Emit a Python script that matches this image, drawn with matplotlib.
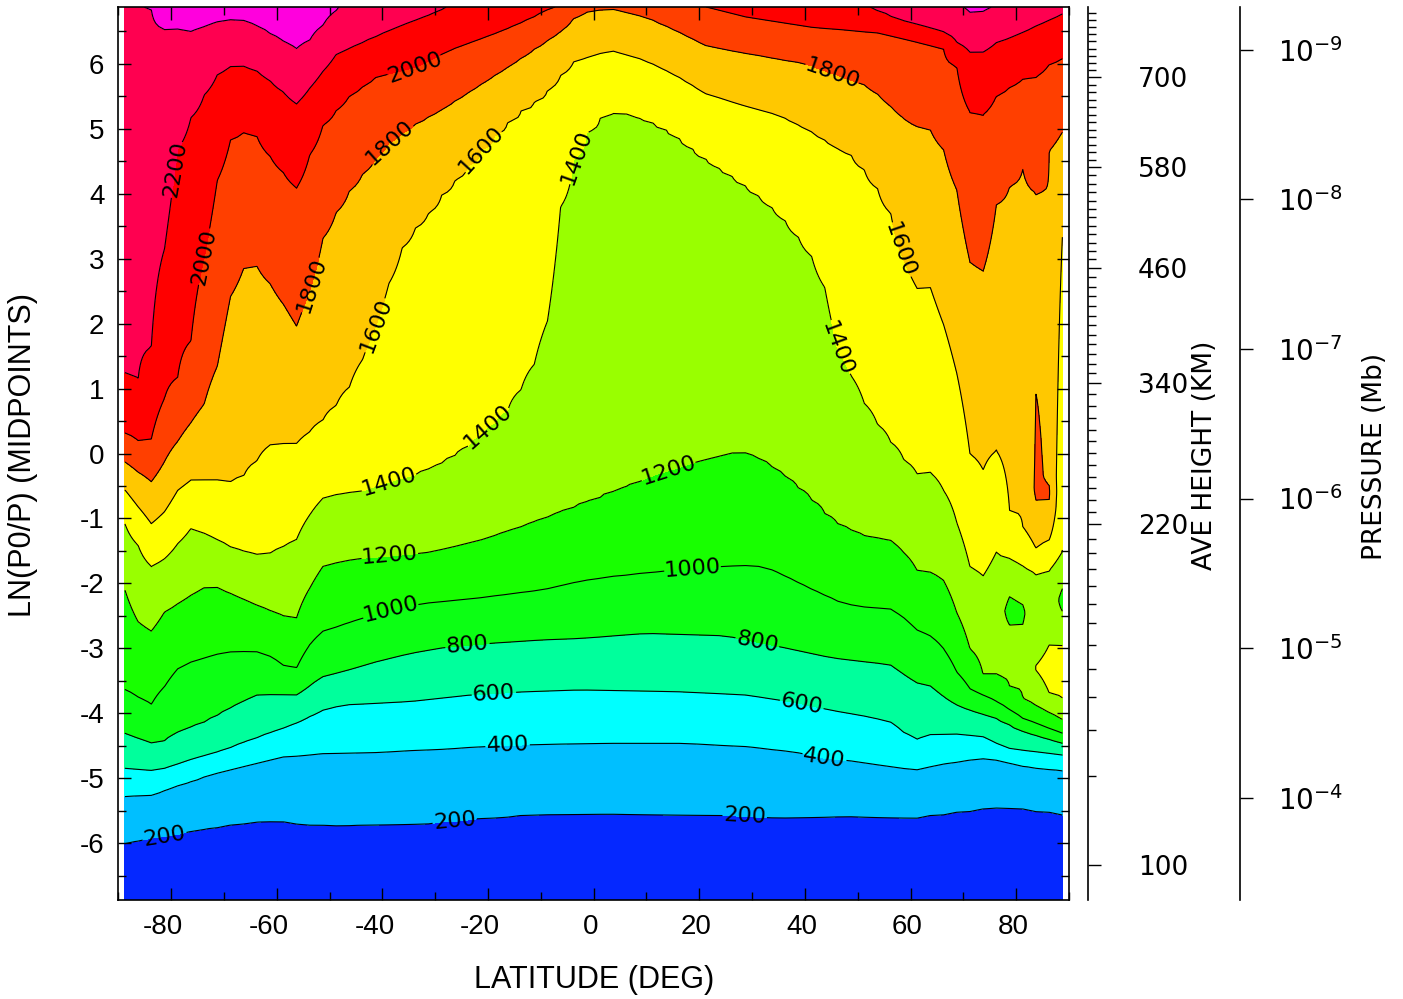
import numpy as np
import matplotlib
matplotlib.use('Agg')
import matplotlib.pyplot as plt
from matplotlib.transforms import ScaledTranslation

plt.rcParams['font.family'] = ['Liberation Sans', 'DejaVu Sans']
plt.rcParams['axes.unicode_minus'] = False

# contour levels and the fill colour of each band (below 200 ... above 2400)
levels = [200, 400, 600, 800, 1000, 1200, 1400, 1600, 1800, 2000, 2200, 2400]
fill_colors = ['#0528FF', '#00BFFF', '#00FFFF', '#00FF9C', '#0CFF14', '#18FF00',
               '#99FF00', '#FFFF00', '#FFC800', '#FF3F00', '#FF0000', '#FF0050', '#FF00DD']

# where each contour runs: latitude (deg) -> ln(p0/p)
# (values above 6.875 mean the contour lies above the top of the plot there)
lat_200 = [-88.75, -76.8, -70.8, -66.5, -60.8, -58.2, -53.8, -47.5, -31.1, -22.2, -9.7, 3.0, 10.0,
           28.6, 35.2, 47.9, 61.1, 69.9, 76.3, 79.4, 88.75]
lnp_200 = [-5.99, -5.82, -5.74, -5.69, -5.66, -5.67, -5.72, -5.73, -5.69, -5.62, -5.55, -5.54, -5.55,
           -5.58, -5.60, -5.58, -5.60, -5.51, -5.44, -5.45, -5.55]

lat_400 = [-88.75, -83.8, -78.4, -72.7, -66.4, -58.8, -51.3, -41.2, -28.5, -16.2, 3.0, 16.3, 28.9,
           38.4, 43.75, 48.5, 56.1, 61.1, 66.8, 73.7, 76.3, 81.9, 88.75]
lnp_400 = [-5.28, -5.26, -5.10, -4.95, -4.82, -4.67, -4.62, -4.60, -4.55, -4.49, -4.46, -4.46, -4.51,
           -4.60, -4.69, -4.73, -4.82, -4.87, -4.77, -4.69, -4.72, -4.82, -4.88]

lat_600 = [-88.75, -83.8, -81.25, -76.5, -70.8, -63.9, -58.8, -56.3, -51.3, -47.5, -34.8, -23.5, -13.3,
           -2.65, 16.3, 28.9, 39.3, 44.7, 51.6, 56.1, 58.9, 61.1, 63.6, 68.7, 73.7, 78.1, 88.75]
lnp_600 = [-4.85, -4.88, -4.85, -4.72, -4.59, -4.38, -4.23, -4.15, -3.95, -3.87, -3.82, -3.72, -3.67,
           -3.64, -3.67, -3.72, -3.85, -3.95, -4.05, -4.13, -4.31, -4.41, -4.33, -4.32, -4.36, -4.54, -4.64]

lat_800 = [-88.75, -83.8, -81.6, -78.4, -73.4, -67.7, -63.9, -60.1, -56.3, -51.3, -47.5, -41.2, -34.8,
           -28.5, -19.1, -9.6, -2.65, 10.0, 25.1, 35.85, 45.3, 51.6, 56.1, 58.9, 61.4, 63.6, 66.2, 68.7,
           71.9, 76.3, 81.3, 88.75]
lnp_800 = [-4.31, -4.46, -4.44, -4.28, -4.13, -3.87, -3.72, -3.71, -3.72, -3.44, -3.36, -3.21, -3.08,
           -2.99, -2.92, -2.87, -2.85, -2.77, -2.81, -2.99, -3.15, -3.21, -3.25, -3.41, -3.54, -3.57, -3.74,
           -3.87, -3.97, -4.08, -4.28, -4.46]

lat_1000 = [-88.75, -83.8, -78.7, -76.2, -70.8, -68.3, -63.9, -61.0, -58.5, -56.3, -53.8, -51.3, -47.5,
            -44.6, -38.6, -32.3, -22.2, -9.6, -2.65, 3.0, 12.5, 25.1, 30.2, 34.0, 41.5, 47.2, 51.6, 56.1,
            58.9, 61.4, 63.6, 66.2, 68.7, 71.2, 76.3, 81.3, 88.75]
lnp_1000 = [-3.64, -3.87, -3.31, -3.21, -3.08, -3.05, -3.05, -3.13, -3.28, -3.31, -2.95, -2.74, -2.64,
            -2.56, -2.41, -2.31, -2.23, -2.10, -1.97, -1.90, -1.82, -1.74, -1.72, -1.80, -2.10, -2.31, -2.37,
            -2.39, -2.54, -2.73, -2.80, -3.00, -3.36, -3.62, -3.82, -4.08, -4.31]

lat_1200 = [-88.75, -87.9, -86.0, -83.8, -81.25, -78.7, -76.2, -73.4, -71.5, -63.9, -58.5, -56.3, -53.8,
            -51.3, -48.1, -44.6, -32.3, -26.6, -20.3, -12.7, -3.3, 3.0, 13.8, 20.1, 26.4, 28.9, 31.4,
            35.85, 40.3, 45.3, 51.6, 56.1, 58.9, 61.4, 63.6, 66.5, 68.7, 70.9, 73.7, 76.3, 81.3, 88.75]
lnp_1200 = [-2.10, -2.39, -2.62, -2.74, -2.44, -2.31, -2.18, -2.05, -2.05, -2.33, -2.51, -2.54, -2.08,
            -1.74, -1.67, -1.62, -1.54, -1.44, -1.31, -1.10, -0.82, -0.62, -0.28, -0.13, 0.0, 0.0, -0.08,
            -0.33, -0.64, -1.05, -1.28, -1.33, -1.54, -1.82, -1.82, -1.97, -2.44, -2.95, -3.41, -3.41,
            -3.77, -4.10]

lat_1400 = [-88.75, -83.8, -81.25, -76.2, -72.7, -68.3, -63.9, -61.4, -56.3, -53.8, -51.3, -48.1, -44.3,
            -33.0, -28.5, -24.1, -19.7, -15.3, -9.66, -8.96, -7.06, -5.87, -3.28, -0.19, 3.3, 6.4, 11.2,
            15.7, 21.3, 27.0, 32.7, 36.5, 40.9, 44.1, 46.0, 49.05, 52.3, 55.4, 57.9, 61.4, 63.6, 66.1,
            68.7, 71.2, 73.7, 76.3, 78.8, 83.8, 86.4, 88.75]
lnp_1400 = [-1.08, -1.74, -1.62, -1.15, -1.26, -1.46, -1.56, -1.54, -1.33, -0.95, -0.69, -0.62, -0.59,
            -0.31, -0.15, 0.08, 0.39, 0.74, 1.62, 1.88, 3.31, 4.03, 4.65, 5.11, 5.26, 5.23, 5.11,
            4.90, 4.54, 4.23, 3.88, 3.57, 3.11, 2.49, 1.62, 1.15, 0.59, 0.28, -0.03, -0.33, -0.28, -0.54,
            -1.05, -1.74, -1.89, -1.51, -1.62, -1.85, -1.80, -1.51]

lat_1600 = [-88.75, -83.75, -80.9, -78.7, -76.5, -71.5, -68.6, -66.4, -63.9, -61.4, -58.8, -56.3, -51.3,
            -47.5, -44.9, -41.2, -39.3, -36.7, -34.3, -31.1, -27.9, -25.4, -21.6, -17.2, -14.0, -9.66,
            -3.98, -0.19, 3.3, 9.97, 15.7, 21.3, 27.6, 35.2, 41.5, 45.3, 49.1, 52.9, 55.4, 56.7, 57.95,
            61.1, 63.6, 66.2, 68.7, 71.2, 73.7, 76.3, 78.5, 82.6, 83.75, 86.25, 88.75]
lnp_1600 = [-0.56, -1.08, -0.87, -0.56, -0.41, -0.41, -0.44, -0.36, -0.13, 0.13, 0.15, 0.15, 0.51,
            0.85, 1.21, 1.97, 2.49, 3.11, 3.42, 3.72, 4.08, 4.28, 4.65, 5.05, 5.26, 5.51,
            6.03, 6.13, 6.21, 6.05, 5.82, 5.54, 5.38, 5.21, 4.95, 4.74, 4.59, 4.20, 3.85, 3.62, 3.13,
            2.54, 2.59, 2.00, 1.26, 0.0, -0.26, 0.05, -0.85, -1.26, -1.46, -1.33, 3.34]

lat_1800 = [-88.75, -83.8, -78.4, -73.4, -70.8, -68.9, -66.4, -63.9, -60.1, -56.3, -55.1, -53.2, -51.9,
            -48.7, -45.6, -41.8, -38.6, -33.6, -28.5, -15.9, -6.4, -2.65, 3.66, 9.97, 15.7, 21.3, 27.6,
            40.3, 45.3, 51.0, 54.2, 57.95, 60.5, 63.6, 66.2, 68.7, 69.95, 71.2, 73.7, 76.3, 81.3, 83.8,
            85.7, 88.75]
lnp_1800 = [-0.13, -0.44, 0.23, 0.80, 1.46, 2.39, 2.85, 2.90, 2.49, 1.95, 2.21, 2.64, 3.21,
            3.72, 4.13, 4.49, 4.80, 5.08, 5.31, 5.97, 6.49, 6.80, 6.85, 6.72, 6.51, 6.28, 6.18,
            6.00, 5.85, 5.69, 5.51, 5.21, 5.05, 5.00, 4.69, 4.08, 3.56, 2.95, 2.79, 3.85, 4.38, 4.00,
            4.59, 4.95]

lat_2000 = [-88.75, -86.0, -83.8, -81.25, -78.1, -76.5, -74.6, -73.7, -72.7, -71.5, -69.3, -66.4, -63.9,
            -61.4, -58.8, -56.3, -53.8, -51.3, -46.2, -41.2, -33.6, -27.3, -22.2, -17.2, -12.1, -8.3,
            -4.0, 5.0, 15.0, 20.1, 28.9, 41.5, 52.9, 60.5, 66.2, 68.7, 71.2, 73.7, 76.3, 81.3, 83.8,
            85.7, 88.75]
lnp_2000 = [0.31, 0.18, 0.21, 0.85, 1.26, 1.62, 2.49, 3.03, 3.56, 4.13, 4.80, 4.95, 4.90,
            4.59, 4.33, 4.08, 4.59, 5.05, 5.51, 5.80, 5.95, 6.21, 6.36, 6.51, 6.69, 6.85,
            6.95, 7.10, 7.05, 6.90, 6.72, 6.56, 6.49, 6.36, 6.23, 5.97, 5.26, 5.21, 5.51, 5.77, 5.80,
            5.97, 6.08]

lat_2200 = [-88.75, -86.0, -83.8, -82.2, -81.25, -80.6, -79.7, -78.1, -75.3, -71.5, -68.6, -66.4, -63.9,
            -60.1, -56.3, -53.8, -48.7, -43.7, -38.7, -34.8, -29.8, -26.0, -10.0, 20.0, 45.0, 51.3,
            57.95, 61.7, 66.2, 71.2, 73.7, 76.3, 80.1, 83.9, 87.6, 88.75]
lnp_2200 = [1.23, 1.13, 1.62, 2.39, 3.15, 3.87, 4.38, 4.90, 5.31, 5.82, 5.97, 5.97, 5.90,
            5.67, 5.38, 5.62, 6.15, 6.33, 6.51, 6.64, 6.79, 6.95, 7.40, 7.40, 7.10, 6.90,
            6.67, 6.59, 6.49, 6.18, 6.18, 6.33, 6.44, 6.59, 6.72, 6.77]

lat_2400 = [-88.75, -86.25, -84.1, -81.25, -78.7, -76.2, -71.5, -68.6, -66.4, -63.9, -60.1, -56.3,
            -53.8, -48.1, -44.0, -20.0, 40.0, 60.0, 69.95, 71.5, 73.7, 75.9, 80.0, 88.75]
lnp_2400 = [7.30, 7.05, 6.88, 6.53, 6.54, 6.50, 6.64, 6.68, 6.67, 6.59, 6.41, 6.23,
            6.36, 6.88, 7.20, 8.00, 8.00, 7.30, 6.88, 6.77, 6.80, 6.88, 7.10, 7.30]

# small closed features near the north pole: extra (ln(p0/p), value) points per column
extra_lat = [78.75, 81.25, 83.75, 86.25, 88.75]
extra_lnp = [[-2.9, -2.64, -2.42, -2.205, -1.95],
             [-2.9, -2.63, -2.45, -2.33, -2.05],
             [-3.6, -3.3, -3.0, -0.72, -0.55, 0.0, 0.5, 0.92, 1.6],
             [-3.69, -3.3, -2.95, -2.4, -0.85, -0.6, -0.35],
             [-3.77, -3.35, -2.95, -2.43, -2.25, -2.08]]
extra_val = [[1260, 1200, 1140, 1200, 1280],
             [1250, 1200, 1165, 1200, 1280],
             [1330, 1410, 1330, 1800, 1830, 1815, 1806, 1800, 1770],
             [1400, 1470, 1400, 1290, 1780, 1815, 1780],
             [1400, 1480, 1400, 1200, 1150, 1200]]

# average height (km) against ln(p0/p)
height_km = [100, 110, 120, 130, 140, 150, 160, 170, 180, 190, 200, 210, 220, 340, 460, 580, 700, 800]
height_lnp = [-6.33, -4.96, -4.25, -3.75, -3.32, -2.95, -2.61, -2.31, -2.035, -1.78, -1.53, -1.31,
              -1.08, 1.09, 2.86, 4.41, 5.79, 6.90]

# pressure axis: p = p0 * exp(-ln(p0/p))
p0 = 5e-7
p_exp = [-9, -8, -7, -6, -5, -4]

# ---- build the gridded field from the contour positions ----
lat_grid = np.arange(-88.75, 88.76, 2.5)
lnp_grid = np.linspace(-6.875, 6.875, 276)

lines = [(lat_200, lnp_200), (lat_400, lnp_400), (lat_600, lnp_600), (lat_800, lnp_800),
         (lat_1000, lnp_1000), (lat_1200, lnp_1200), (lat_1400, lnp_1400), (lat_1600, lnp_1600),
         (lat_1800, lnp_1800), (lat_2000, lnp_2000), (lat_2200, lnp_2200), (lat_2400, lnp_2400)]
cross = [np.interp(lat_grid, la, ln) for la, ln in lines]

field = np.zeros((lnp_grid.size, lat_grid.size))
for j, la in enumerate(lat_grid):
    zs = [-9.0] + [c[j] for c in cross] + [10.0]
    vs = [0.0] + levels + [3000.0]
    for k, el in enumerate(extra_lat):
        if abs(el - la) < 0.01:
            zs = zs + extra_lnp[k]
            vs = vs + extra_val[k]
    order = np.argsort(zs)
    field[:, j] = np.interp(lnp_grid, np.array(zs)[order], np.array(vs, dtype=float)[order])

# ---- figure ----
fig = plt.figure(figsize=(14.03, 9.99), dpi=100)
L, B, W, H = 118.3 / 1403, 99 / 999, 950.7 / 1403, 893 / 999
ax = fig.add_axes([L, B, W, H])

ax.contourf(lat_grid, lnp_grid, field, levels=[0] + levels + [3000], colors=fill_colors)
cs = ax.contour(lat_grid, lnp_grid, field, levels=levels, colors='k', linewidths=0.8)

label_pos = [(-81.25, -5.89), (-26.3, -5.66), (28.6, -5.585),
             (-16.3, -4.49), (43.75, -4.66),
             (-18.9, -3.68), (39.4, -3.86),
             (-23.9, -2.95), (31.1, -2.86),
             (-38.6, -2.35), (18.75, -1.815),
             (-38.6, -1.57), (14.0, -0.23),
             (-38.6, -0.49), (-19.7, 0.385), (-3.0, 4.54), (45.8, 1.615),
             (-41.3, 1.97), (-21.6, 4.69), (57.6, 3.12),
             (-53.8, 2.6), (-38.6, 4.8), (45.3, 5.88),
             (-73.7, 3.03), (-33.9, 5.97),
             (-79.7, 4.38)]
clabels = ax.clabel(cs, fmt='%d', fontsize=16, inline=True, inline_spacing=4, manual=label_pos)
for t in clabels:
    t.set_fontfamily('DejaVu Sans')

ax.set_xlim(-90, 90)
ax.set_ylim(-6.875, 6.875)
ax.set_xticks(np.arange(-80, 81, 20))
ax.set_xticks(np.arange(-90, 91, 10), minor=True)
ax.set_yticks(np.arange(-6, 7, 1))
ax.set_yticks(np.arange(-6.5, 7, 0.5), minor=True)
ax.tick_params(which='both', direction='in', top=True, right=True, width=1)
ax.tick_params(which='major', length=9, labelsize=20, pad=10)
ax.tick_params(which='minor', length=6)
for s in ax.spines.values():
    s.set_linewidth(1.2)

# the numbers sit centred on their digits, the minus sign hangs to the left
for lab in ax.get_xticklabels():
    shift = -8 if lab.get_text().startswith('-') else -3
    lab.set_transform(lab.get_transform() + ScaledTranslation(shift / 100, 0, fig.dpi_scale_trans))

fig.text(594 / 1403, 1 - 980 / 999, 'LATITUDE (DEG)', ha='center', va='center', fontsize=22)
fig.text(23 / 1403, 1 - 455 / 999, 'LN(P0/P) (MIDPOINTS)', ha='center', va='center',
         rotation=90, fontsize=22)

# height axis
xh = 1088 / 1403
axh = fig.add_axes([xh - 0.02, B, 0.02, H])
axh.set_ylim(-6.875, 6.875)
axh.patch.set_alpha(0)
for s in ('left', 'top', 'bottom'):
    axh.spines[s].set_visible(False)
axh.spines['right'].set_linewidth(1.2)
axh.set_xticks([])
axh.yaxis.set_ticks_position('right')
h_major = [100, 220, 340, 460, 580, 700]
h_minor = [h for h in range(100, 800, 10) if h not in h_major]
axh.set_yticks(np.interp(h_major, height_km, height_lnp))
axh.set_yticklabels([str(h) for h in h_major], fontfamily='DejaVu Sans')
axh.set_yticks(np.interp(h_minor, height_km, height_lnp), minor=True)
axh.tick_params(which='major', direction='out', length=9, width=1, pad=27, labelsize=19)
axh.tick_params(which='minor', direction='out', length=5.5, width=1)
fig.text(1205 / 1403, 1 - 455 / 999, 'AVE HEIGHT (KM)', ha='center', va='center',
         rotation=90, fontsize=19, fontfamily='DejaVu Sans')

# pressure axis
xp = 1240 / 1403
axp = fig.add_axes([xp - 0.02, B, 0.02, H])
axp.set_ylim(-6.875, 6.875)
axp.patch.set_alpha(0)
for s in ('left', 'top', 'bottom'):
    axp.spines[s].set_visible(False)
axp.spines['right'].set_linewidth(1.2)
axp.set_xticks([])
axp.yaxis.set_ticks_position('right')
axp.set_yticks(np.log(p0 / 10.0 ** np.array(p_exp, dtype=float)))
axp.set_yticklabels([rf'$10^{{{e}}}$' for e in p_exp])
axp.tick_params(which='major', direction='out', length=9, width=1, pad=18, labelsize=20)
fig.text(1375 / 1403, 1 - 456 / 999, 'PRESSURE (Mb)', ha='center', va='center',
         rotation=90, fontsize=19, fontfamily='DejaVu Sans')

fig.savefig('out.png', dpi=100, facecolor='white')
